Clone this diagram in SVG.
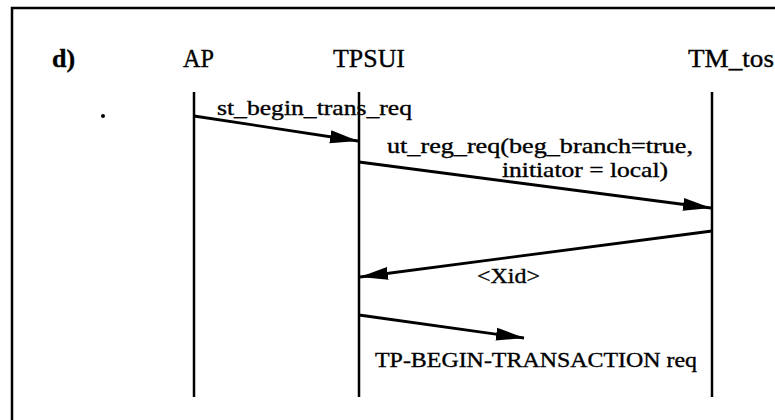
<svg xmlns="http://www.w3.org/2000/svg" width="775" height="420" viewBox="0 0 775 420">
<style>
.t{font-family:"Liberation Serif","DejaVu Serif",serif;fill:#000;stroke:#000;stroke-width:0.35}
.h{font-size:26px}
.m{font-size:21px}
.life{stroke:#000;stroke-width:2.5;fill:none}
.msg{stroke:#000;stroke-width:2.8;fill:none}
</style>
<defs>
<marker id="ah" markerUnits="userSpaceOnUse" markerWidth="30" markerHeight="14" refX="28" refY="7" orient="auto">
<path d="M0,0.5 L28,7 L0,13.5 Z" fill="#000"/>
</marker>
</defs>
<rect width="775" height="420" fill="#fff"/>
<g id="frame">
<path d="M12,420 L12,8 L775,8" stroke="#000" stroke-width="2.5" fill="none"/>
<text class="t h" x="52" y="67" font-weight="bold">d)</text>
<circle cx="103" cy="116" r="2" fill="#000"/>
</g>
<g id="AP">
<text class="t h" x="183" y="67" textLength="31" lengthAdjust="spacingAndGlyphs">AP</text>
<line class="life" x1="194" y1="92" x2="194" y2="397"/>
</g>
<g id="TPSUI">
<text class="t h" x="333" y="67" textLength="72" lengthAdjust="spacingAndGlyphs">TPSUI</text>
<line class="life" x1="359" y1="92" x2="359" y2="397"/>
</g>
<g id="TM_tos">
<text class="t h" x="688" y="67" textLength="86" lengthAdjust="spacingAndGlyphs">TM_tos</text>
<line class="life" x1="712" y1="92" x2="712" y2="397"/>
</g>
<g id="connectors">
<line class="msg" x1="194" y1="116" x2="358" y2="141" marker-end="url(#ah)"/>
<line class="msg" x1="359" y1="162" x2="711" y2="208" marker-end="url(#ah)"/>
<line class="msg" x1="712" y1="231" x2="360" y2="277" marker-end="url(#ah)"/>
<line class="msg" x1="359" y1="315" x2="524" y2="338" marker-end="url(#ah)"/>
<text class="t m" x="217" y="115" textLength="195" lengthAdjust="spacingAndGlyphs">st_begin_trans_req</text>
<text class="t m" x="387" y="153" textLength="306" lengthAdjust="spacingAndGlyphs">ut_reg_req(beg_branch=true,</text>
<text class="t m" x="502" y="177" textLength="166" lengthAdjust="spacingAndGlyphs">initiator = local)</text>
<text class="t m" x="477" y="283" textLength="63" lengthAdjust="spacingAndGlyphs">&lt;Xid&gt;</text>
<text class="t m" x="375" y="367" textLength="322" lengthAdjust="spacingAndGlyphs">TP-BEGIN-TRANSACTION req</text>
</g>
</svg>
